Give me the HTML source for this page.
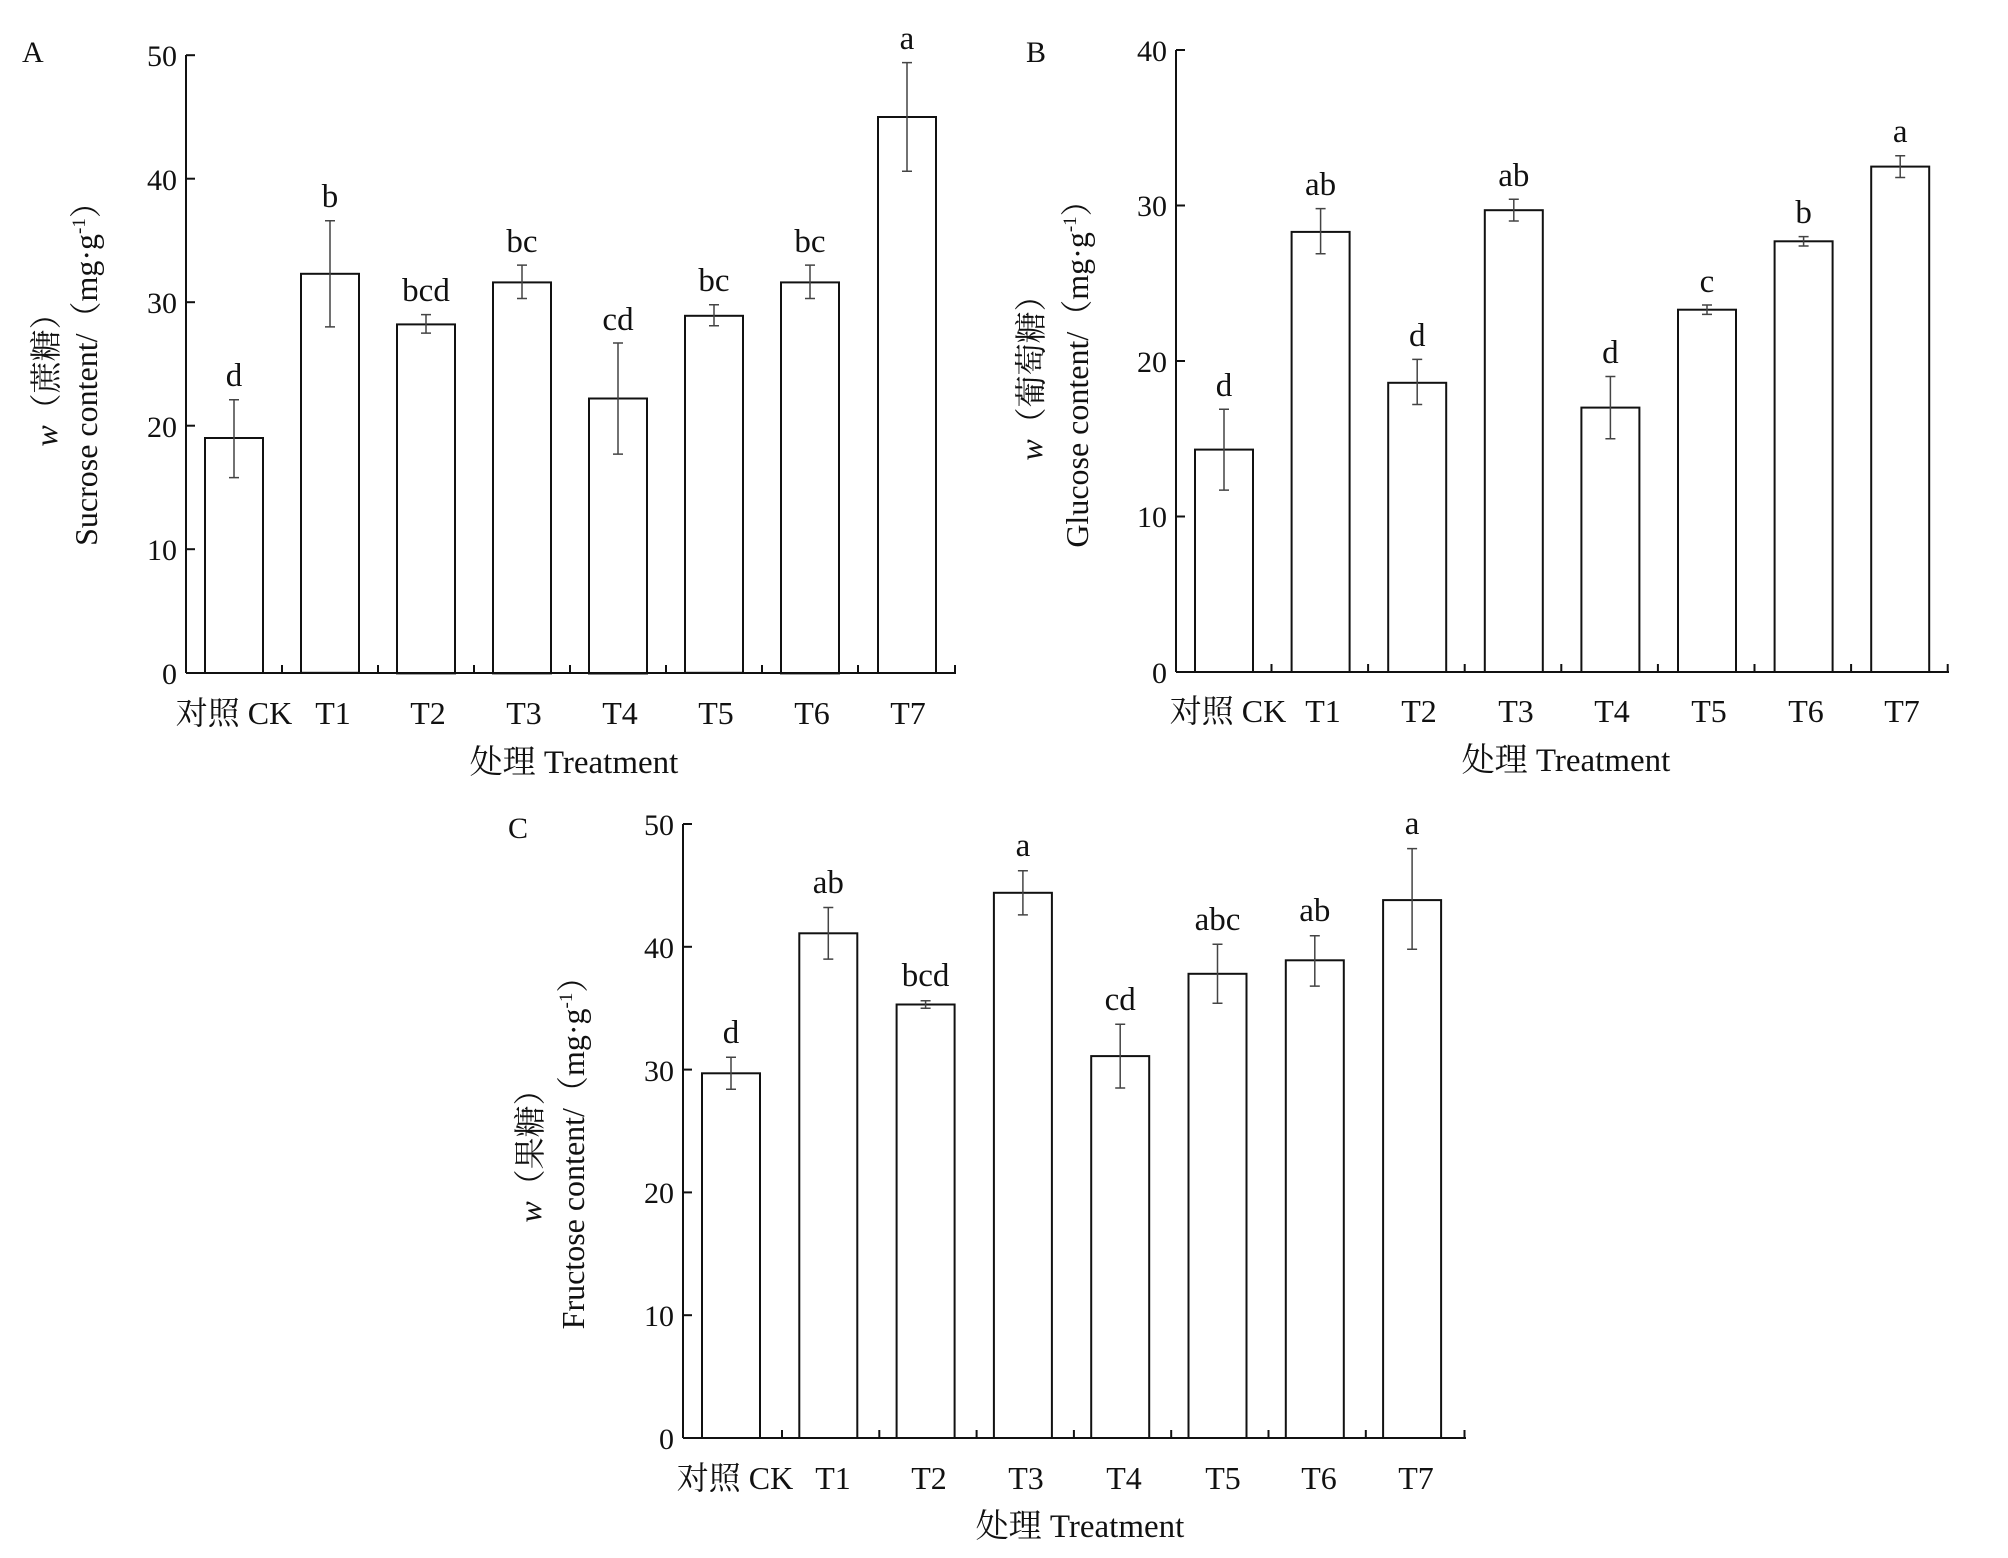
<!DOCTYPE html>
<html><head><meta charset="utf-8"><style>
html,body{margin:0;padding:0;background:#fff;}
svg{display:block;}
text{font-family:"Liberation Serif","Noto Serif CJK SC","Noto Sans CJK SC",serif;fill:#111;}
.l{font-size:33px;}
.x{font-size:32px;}
.t{font-size:33px;}
.y{font-size:32px;}
</style></head><body>
<svg width="2008" height="1558" viewBox="0 0 2008 1558" xmlns="http://www.w3.org/2000/svg">
<g font-size="30">
<!-- Panel A -->
<text x="22" y="62">A</text>
<g stroke="#111" stroke-width="2" fill="none">
<line x1="186" y1="55" x2="186" y2="673"/>
<line x1="186" y1="673" x2="956" y2="673"/>
<line x1="186" y1="55.2" x2="195" y2="55.2"/><line x1="186" y1="178.7" x2="195" y2="178.7"/><line x1="186" y1="302.2" x2="195" y2="302.2"/><line x1="186" y1="425.7" x2="195" y2="425.7"/><line x1="186" y1="549.2" x2="195" y2="549.2"/>
<line x1="282" y1="673" x2="282" y2="665"/><line x1="378" y1="673" x2="378" y2="665"/><line x1="474" y1="673" x2="474" y2="665"/><line x1="570" y1="673" x2="570" y2="665"/><line x1="666" y1="673" x2="666" y2="665"/><line x1="762" y1="673" x2="762" y2="665"/><line x1="858" y1="673" x2="858" y2="665"/><line x1="955" y1="673" x2="955" y2="665"/>
<rect x="205" y="438" width="58" height="235"/>
<rect x="301" y="273.8" width="58" height="399"/>
<rect x="397" y="324.4" width="58" height="349"/>
<rect x="493" y="282.4" width="58" height="391"/>
<rect x="589" y="398.5" width="58" height="275"/>
<rect x="685" y="315.8" width="58" height="357"/>
<rect x="781" y="282.4" width="58" height="391"/>
<rect x="878" y="117" width="58" height="556"/>
</g>
<g stroke="#444" stroke-width="1.5">
<path d="M234 477.6V399.8M229 477.6h10M229 399.8h10"/>
<path d="M330 326.9V220.7M325 326.9h10M325 220.7h10"/>
<path d="M426 333.1V314.6M421 333.1h10M421 314.6h10"/>
<path d="M522 298.5V265.1M517 298.5h10M517 265.1h10"/>
<path d="M618 454.1V343M613 454.1h10M613 343h10"/>
<path d="M714 325.7V304.7M709 325.7h10M709 304.7h10"/>
<path d="M810 298.5V265.1M805 298.5h10M805 265.1h10"/>
<path d="M907 171.3V62.6M902 171.3h10M902 62.6h10"/>
</g>
<g text-anchor="middle">
<g class="l"><text x="234" y="386">d</text><text x="330" y="207">b</text><text x="426" y="301">bcd</text><text x="522" y="252">bc</text><text x="618" y="330">cd</text><text x="714" y="291">bc</text><text x="810" y="252">bc</text><text x="907" y="49">a</text></g>
<g class="x"><text x="234" y="724">对照 CK</text><text x="333" y="724">T1</text><text x="428" y="724">T2</text><text x="524" y="724">T3</text><text x="620" y="724">T4</text><text x="716" y="724">T5</text><text x="812" y="724">T6</text><text x="908" y="724">T7</text></g>
<text class="t" x="574" y="773">处理 Treatment</text>
</g>
<g text-anchor="end">
<text x="177" y="684">0</text><text x="177" y="560">10</text><text x="177" y="437">20</text><text x="177" y="313">30</text><text x="177" y="190">40</text><text x="177" y="66">50</text>
</g>
<text class="y" transform="translate(57,372) rotate(-90)" text-anchor="middle"><tspan font-style="italic">w</tspan>（蔗糖）</text>
<text class="y" transform="translate(97,366) rotate(-90)" text-anchor="middle">Sucrose content/（mg·g<tspan font-size="19" dy="-12">-1</tspan><tspan dy="12">）</tspan></text>

<!-- Panel B -->
<text x="1026" y="62">B</text>
<g stroke="#111" stroke-width="2" fill="none">
<line x1="1176" y1="50" x2="1176" y2="672"/>
<line x1="1176" y1="672" x2="1949" y2="672"/>
<line x1="1176" y1="50" x2="1185" y2="50"/><line x1="1176" y1="205.5" x2="1185" y2="205.5"/><line x1="1176" y1="361" x2="1185" y2="361"/><line x1="1176" y1="516.5" x2="1185" y2="516.5"/>
<line x1="1271.5" y1="672" x2="1271.5" y2="664"/><line x1="1368.1" y1="672" x2="1368.1" y2="664"/><line x1="1464.7" y1="672" x2="1464.7" y2="664"/><line x1="1561.3" y1="672" x2="1561.3" y2="664"/><line x1="1657.9" y1="672" x2="1657.9" y2="664"/><line x1="1754.5" y1="672" x2="1754.5" y2="664"/><line x1="1851.1" y1="672" x2="1851.1" y2="664"/><line x1="1947.7" y1="672" x2="1947.7" y2="664"/>
<rect x="1195" y="449.6" width="58" height="222.4"/>
<rect x="1291.6" y="231.9" width="58" height="440.1"/>
<rect x="1388.2" y="382.8" width="58" height="289.2"/>
<rect x="1484.8" y="210.2" width="58" height="461.8"/>
<rect x="1581.4" y="407.6" width="58" height="264.4"/>
<rect x="1678" y="309.7" width="58" height="362.3"/>
<rect x="1774.6" y="241.3" width="58" height="430.7"/>
<rect x="1871.2" y="166.6" width="58" height="505.4"/>
</g>
<g stroke="#444" stroke-width="1.5">
<path d="M1224 490.1V409.2M1219 490.1h10M1219 409.2h10"/>
<path d="M1320.6 253.7V208.6M1315.6 253.7h10M1315.6 208.6h10"/>
<path d="M1417.2 404.5V359.4M1412.2 404.5h10M1412.2 359.4h10"/>
<path d="M1513.8 221V199.3M1508.8 221h10M1508.8 199.3h10"/>
<path d="M1610.4 438.8V376.5M1605.4 438.8h10M1605.4 376.5h10"/>
<path d="M1707 314.4V305M1702 314.4h10M1702 305h10"/>
<path d="M1803.6 246V236.6M1798.6 246h10M1798.6 236.6h10"/>
<path d="M1900.2 177.5V155.7M1895.2 177.5h10M1895.2 155.7h10"/>
</g>
<g text-anchor="middle">
<g class="l"><text x="1224" y="396">d</text><text x="1320.6" y="195">ab</text><text x="1417.2" y="346">d</text><text x="1513.8" y="186">ab</text><text x="1610.4" y="363">d</text><text x="1707" y="292">c</text><text x="1803.6" y="223">b</text><text x="1900.2" y="142">a</text></g>
<g class="x"><text x="1228" y="722">对照 CK</text><text x="1323" y="722">T1</text><text x="1419" y="722">T2</text><text x="1516" y="722">T3</text><text x="1612" y="722">T4</text><text x="1709" y="722">T5</text><text x="1806" y="722">T6</text><text x="1902" y="722">T7</text></g>
<text class="t" x="1566" y="771">处理 Treatment</text>
</g>
<g text-anchor="end">
<text x="1167" y="683">0</text><text x="1167" y="527">10</text><text x="1167" y="372">20</text><text x="1167" y="216">30</text><text x="1167" y="61">40</text>
</g>
<text class="y" transform="translate(1042,370) rotate(-90)" text-anchor="middle"><tspan font-style="italic">w</tspan>（葡萄糖）</text>
<text class="y" transform="translate(1088,366) rotate(-90)" text-anchor="middle">Glucose content/（mg·g<tspan font-size="19" dy="-12">-1</tspan><tspan dy="12">）</tspan></text>

<!-- Panel C -->
<text x="508" y="838">C</text>
<g stroke="#111" stroke-width="2" fill="none">
<line x1="683" y1="824" x2="683" y2="1438"/>
<line x1="683" y1="1438" x2="1466" y2="1438"/>
<line x1="683" y1="824" x2="692" y2="824"/><line x1="683" y1="946.8" x2="692" y2="946.8"/><line x1="683" y1="1069.6" x2="692" y2="1069.6"/><line x1="683" y1="1192.4" x2="692" y2="1192.4"/><line x1="683" y1="1315.2" x2="692" y2="1315.2"/>
<line x1="782" y1="1438" x2="782" y2="1430"/><line x1="879.3" y1="1438" x2="879.3" y2="1430"/><line x1="976.6" y1="1438" x2="976.6" y2="1430"/><line x1="1073.9" y1="1438" x2="1073.9" y2="1430"/><line x1="1171.2" y1="1438" x2="1171.2" y2="1430"/><line x1="1268.5" y1="1438" x2="1268.5" y2="1430"/><line x1="1365.8" y1="1438" x2="1365.8" y2="1430"/><line x1="1464.5" y1="1438" x2="1464.5" y2="1430"/>
<rect x="702" y="1073.3" width="58" height="364.7"/>
<rect x="799.3" y="933.3" width="58" height="504.7"/>
<rect x="896.6" y="1004.5" width="58" height="433.5"/>
<rect x="993.9" y="892.8" width="58" height="545.2"/>
<rect x="1091.2" y="1056.1" width="58" height="381.9"/>
<rect x="1188.5" y="973.8" width="58" height="464.2"/>
<rect x="1285.8" y="960.3" width="58" height="477.7"/>
<rect x="1383.1" y="900.1" width="58" height="537.9"/>
</g>
<g stroke="#444" stroke-width="1.5">
<path d="M731 1089.2V1057.3M726 1089.2h10M726 1057.3h10"/>
<path d="M828.3 959.1V907.5M823.3 959.1h10M823.3 907.5h10"/>
<path d="M925.6 1008.2V1000.8M920.6 1008.2h10M920.6 1000.8h10"/>
<path d="M1022.9 914.9V870.7M1017.9 914.9h10M1017.9 870.7h10"/>
<path d="M1120.2 1088V1024.2M1115.2 1088h10M1115.2 1024.2h10"/>
<path d="M1217.5 1003.3V944.3M1212.5 1003.3h10M1212.5 944.3h10"/>
<path d="M1314.8 986.1V935.7M1309.8 986.1h10M1309.8 935.7h10"/>
<path d="M1412.1 949.3V848.6M1407.1 949.3h10M1407.1 848.6h10"/>
</g>
<g text-anchor="middle">
<g class="l"><text x="731" y="1043">d</text><text x="828.3" y="893">ab</text><text x="925.6" y="986">bcd</text><text x="1022.9" y="856">a</text><text x="1120.2" y="1010">cd</text><text x="1217.5" y="930">abc</text><text x="1314.8" y="921">ab</text><text x="1412.1" y="834">a</text></g>
<g class="x"><text x="735" y="1489">对照 CK</text><text x="833" y="1489">T1</text><text x="929" y="1489">T2</text><text x="1026" y="1489">T3</text><text x="1124" y="1489">T4</text><text x="1223" y="1489">T5</text><text x="1319" y="1489">T6</text><text x="1416" y="1489">T7</text></g>
<text class="t" x="1080" y="1537">处理 Treatment</text>
</g>
<g text-anchor="end">
<text x="674" y="1449">0</text><text x="674" y="1326">10</text><text x="674" y="1203">20</text><text x="674" y="1081">30</text><text x="674" y="958">40</text><text x="674" y="835">50</text>
</g>
<text class="y" transform="translate(541,1148) rotate(-90)" text-anchor="middle"><tspan font-style="italic">w</tspan>（果糖）</text>
<text class="y" transform="translate(584,1145) rotate(-90)" text-anchor="middle">Fructose content/（mg·g<tspan font-size="19" dy="-12">-1</tspan><tspan dy="12">）</tspan></text>
</g>
</svg>
</body></html>
